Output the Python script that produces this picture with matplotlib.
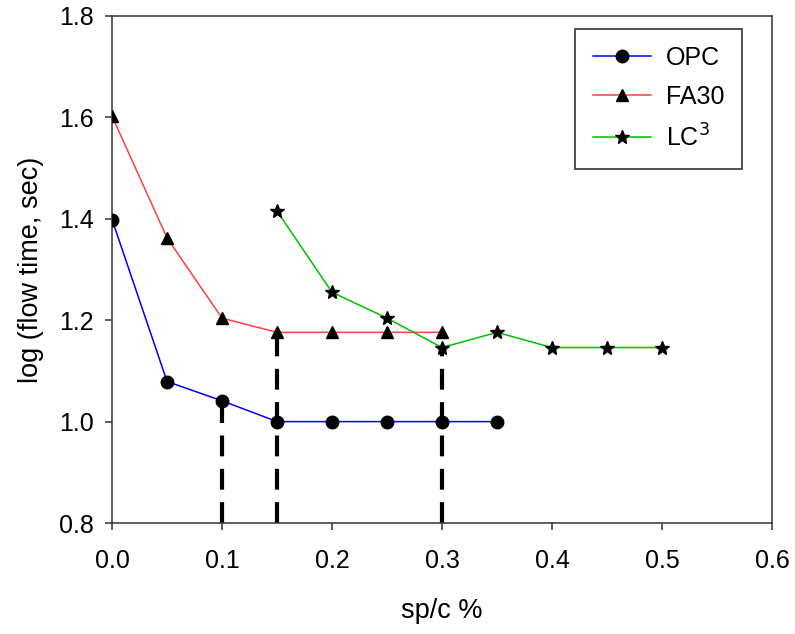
import matplotlib
matplotlib.use("Agg")
import matplotlib.pyplot as plt

plt.rcParams["font.family"] = ["Liberation Sans", "DejaVu Sans"]

# datos
x_opc = [0.0, 0.05, 0.10, 0.15, 0.20, 0.25, 0.30, 0.35]
y_opc = [1.398, 1.079, 1.041, 1.000, 1.000, 1.000, 1.000, 1.000]

x_fa30 = [0.0, 0.05, 0.10, 0.15, 0.20, 0.25, 0.30]
y_fa30 = [1.602, 1.362, 1.204, 1.176, 1.176, 1.176, 1.176]

x_lc3 = [0.15, 0.20, 0.25, 0.30, 0.35, 0.40, 0.45, 0.50]
y_lc3 = [1.415, 1.255, 1.204, 1.146, 1.176, 1.146, 1.146, 1.146]

# líneas verticales de saturación
x_sat = [0.10, 0.15, 0.30]
y_sat = [1.041, 1.176, 1.146]

xticks = [0.0, 0.1, 0.2, 0.3, 0.4, 0.5, 0.6]
yticks = [0.8, 1.0, 1.2, 1.4, 1.6, 1.8]

fig = plt.figure(figsize=(7.95, 6.34), dpi=100)
ax = fig.add_axes([0.141, 0.175, 0.830, 0.800])

ax.plot(x_opc, y_opc, color="#0000ff", lw=1.1, marker="o", ms=9,
        mfc="black", mec="black", label="OPC", zorder=3)
ax.plot(x_fa30, y_fa30, color="#ff4040", lw=1.1, marker="^", ms=9,
        mfc="black", mec="black", label="FA30", zorder=3)
ax.plot(x_lc3, y_lc3, color="#00c000", lw=1.1, marker="*", ms=10,
        mfc="black", mec="black", label="LC$^3$", zorder=3)

for xs, ys in zip(x_sat, y_sat):
    ax.plot([xs, xs], [0.8, ys], color="black", lw=3, ls=(0, (5, 3)), zorder=2)

ax.set_xlim(0, 0.6)
ax.set_ylim(0.8, 1.8)
ax.set_xticks(xticks)
ax.set_yticks(yticks)
ax.set_xticklabels([f"{v:.1f}" for v in xticks])
ax.set_yticklabels([f"{v:.1f}" for v in yticks])
ax.tick_params(direction="out", length=5, width=1.1, color="#333333",
               labelsize=18)
ax.tick_params(axis="x", pad=14)
ax.tick_params(axis="y", pad=8)
for s in ax.spines.values():
    s.set_linewidth(1.1)
    s.set_color("#333333")

ax.set_xlabel("sp/c %", fontsize=19.5, labelpad=18)
ax.set_ylabel("log (flow time, sec)", fontsize=19.5, labelpad=11)

leg = ax.legend(loc="upper right", bbox_to_anchor=(0.955, 0.975), fontsize=18,
                frameon=True, fancybox=False, edgecolor="black",
                handlelength=2.35, handletextpad=0.6, borderpad=0.7,
                labelspacing=0.6, borderaxespad=0)
leg.get_frame().set_linewidth(1.2)

fig.savefig("out.png", dpi=100)
